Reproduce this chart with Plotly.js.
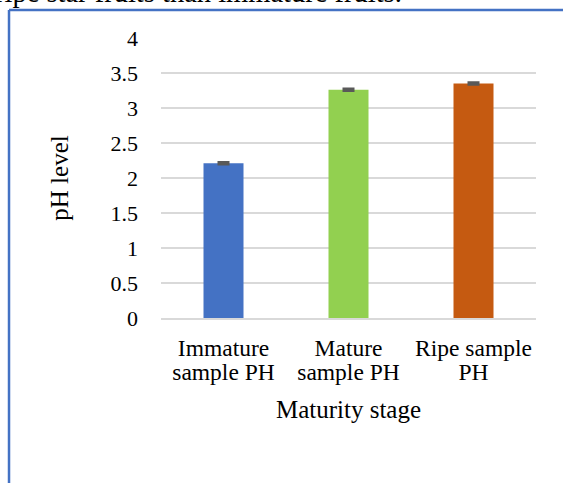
<!DOCTYPE html>
<html>
<head>
<meta charset="utf-8">
<script src="https://cdn.plot.ly/plotly-3.0.1.min.js"></script>
<style>html,body{margin:0;padding:0;background:#fff;}#chart{width:563px;height:483px;}</style>
</head>
<body>
<div id="chart"></div>
<script>
var categories = ["Immature<br>sample PH", "Mature<br>sample PH", "Ripe sample<br>PH"];
var phValues = [2.21, 3.26, 3.35];
var phErrors = [0.01, 0.01, 0.01];
var barColors = ["#4472C4", "#92D050", "#C55A11"];
var yTicks = [0, 0.5, 1, 1.5, 2, 2.5, 3, 3.5, 4];
var yTickText = ["0", "0.5", "1", "1.5", "2", "2.5", "3", "3.5", "4"];
var captionText = "ripe star fruits than immature fruits.";

var serif = "Liberation Serif, Times New Roman, serif";

var trace = {
  type: "bar",
  x: categories,
  y: phValues,
  marker: {color: barColors},
  error_y: {type: "data", array: phErrors, visible: true, color: "#595959", thickness: 3, width: 6},
  hoverinfo: "none"
};

var layout = {
  width: 563, height: 483,
  margin: {l: 161, r: 27, t: 38, b: 165},
  paper_bgcolor: "#fff", plot_bgcolor: "#fff",
  font: {family: serif, size: 22, color: "#000"},
  showlegend: false,
  bargap: 0.68,
  xaxis: {
    type: "category",
    showgrid: false,
    showline: true, linecolor: "#d9d9d9", linewidth: 1.5,
    ticks: "", ticklabelstandoff: 8,
    tickfont: {family: serif, size: 23.5, color: "#000"},
    title: {text: "Maturity stage", font: {family: serif, size: 25, color: "#000"}, standoff: 10}
  },
  yaxis: {
    range: [0, 4],
    tickvals: yTicks, ticktext: yTickText,
    showgrid: true, gridcolor: "#d9d9d9", gridwidth: 1.5,
    zeroline: false, showline: false,
    ticks: "", ticklabelstandoff: 22,
    tickfont: {family: serif, size: 22, color: "#000"},
    title: {text: "pH level", font: {family: serif, size: 25, color: "#000"}, standoff: 34}
  },
  shapes: [
    {type: "line", xref: "paper", yref: "paper", x0: -0.4053, x1: -0.4053, y0: -1, y1: 1.1, line: {color: "#4472C4", width: 2.5}},
    {type: "line", xref: "paper", yref: "paper", x0: -0.4053, x1: 2, y0: 1.1, y1: 1.1, line: {color: "#4472C4", width: 2.5}}
  ],
  annotations: [
    {text: captionText, xref: "paper", yref: "paper", x: -0.449, y: 1.101, xanchor: "left", yanchor: "bottom",
     showarrow: false, font: {family: serif, size: 28.5, color: "#000"}}
  ]
};

Plotly.newPlot("chart", [trace], layout, {displayModeBar: false, staticPlot: true}).then(function () {
  document.querySelectorAll(".xtick text tspan.line").forEach(function (t, i) {
    if (t.getAttribute("dy") && t.getAttribute("dy") !== "0em") t.setAttribute("dy", "1.05em");
  });
});
</script>
</body>
</html>
